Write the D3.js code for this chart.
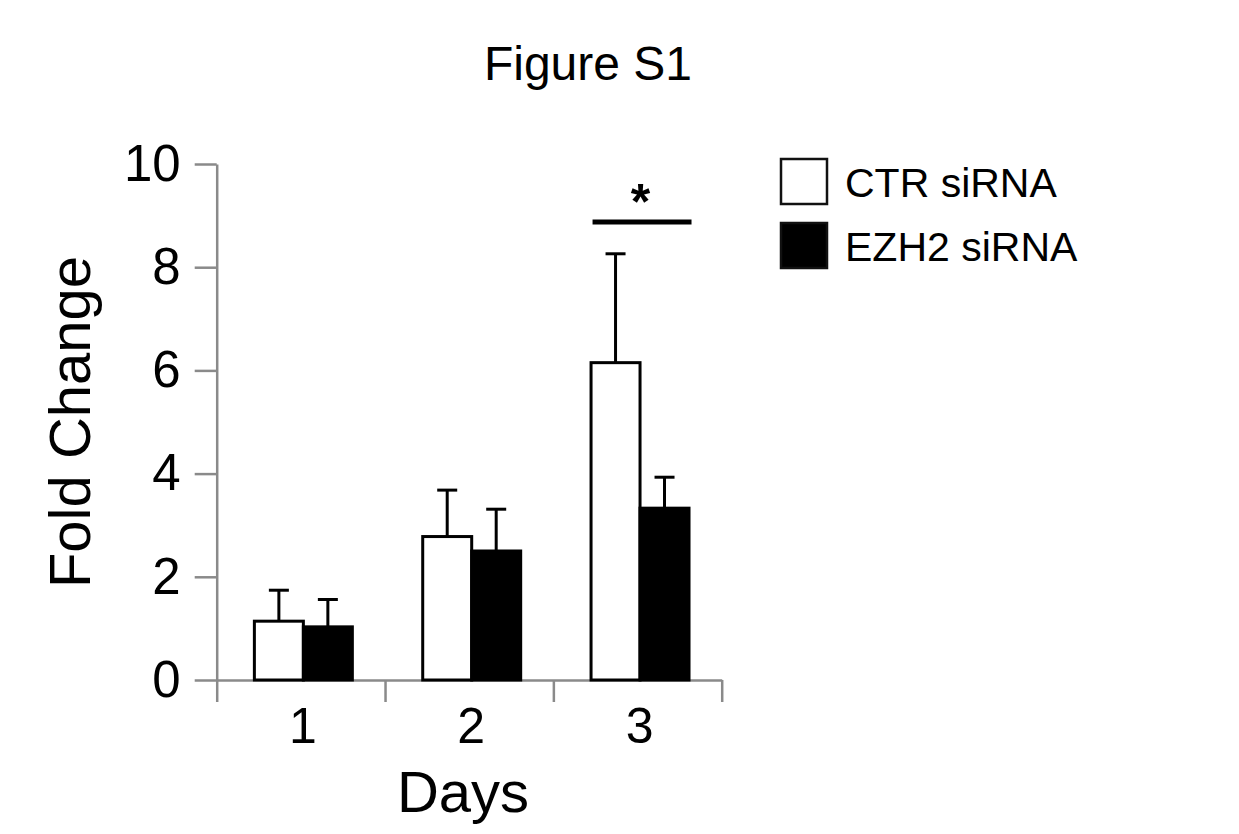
<!DOCTYPE html>
<html>
<head>
<meta charset="utf-8">
<script src="https://cdn.jsdelivr.net/npm/d3@7"></script>
<style>
  html, body { margin: 0; padding: 0; background: #fff; }
  svg { display: block; font-family: Arial, "Liberation Sans", Helvetica, sans-serif; }
</style>
</head>
<body>
<svg id="chart" width="1239" height="834"></svg>
<script>
const days = ["1", "2", "3"];
const seriesNames = ["CTR siRNA", "EZH2 siRNA"];
const ctrValues = [1.14, 2.78, 6.15];
const ctrErrors = [0.60, 0.90, 2.11];
const ezh2Values = [1.03, 2.50, 3.33];
const ezh2Errors = [0.53, 0.81, 0.60];
const yTicks = [0, 2, 4, 6, 8, 10];
const significantDay = "3";

const data = days.map((d, i) => ({
  day: d,
  bars: [
    { series: seriesNames[0], value: ctrValues[i], err: ctrErrors[i] },
    { series: seriesNames[1], value: ezh2Values[i], err: ezh2Errors[i] }
  ]
}));

const svg = d3.select("#chart");
const plotLeft = 216.7, plotRight = 721.7, plotTop = 164, plotBottom = 680;
const axisColor = "#8a8a8a";

const y = d3.scaleLinear().domain([0, 10]).range([plotBottom, plotTop]);
const x0 = d3.scaleBand().domain(days).range([plotLeft, plotRight]).paddingInner(0.418).paddingOuter(0.209);
const x1 = d3.scaleBand().domain(seriesNames).range([0, x0.bandwidth()]);
const xEdge = d3.scaleLinear().domain([0, days.length]).range([plotLeft, plotRight]);
const fill = d3.scaleOrdinal().domain(seriesNames).range(["#ffffff", "#000000"]);

// Title
svg.append("text").attr("x", 588).attr("y", 80).attr("text-anchor", "middle")
  .attr("font-size", 48).attr("fill", "#000").text("Figure S1");

// Y axis
const yAxis = svg.append("g").attr("transform", `translate(${plotLeft},0)`)
  .call(d3.axisLeft(y).tickValues(yTicks).tickSize(22).tickSizeOuter(0).tickPadding(14));
yAxis.selectAll("path, line").attr("stroke", axisColor).attr("stroke-width", 2.5);
yAxis.selectAll("text").attr("font-size", 51).attr("fill", "#000");
yAxis.attr("font-family", null).attr("font-size", null);

// X axis edges
const xAxisEdges = svg.append("g").attr("transform", `translate(0,${plotBottom})`)
  .call(d3.axisBottom(xEdge).tickValues(d3.range(days.length + 1)).tickSize(22).tickSizeOuter(0).tickFormat(""));
xAxisEdges.selectAll("path, line").attr("stroke", axisColor).attr("stroke-width", 2.5);

// X labels
const xAxisLabels = svg.append("g").attr("transform", `translate(2,${plotBottom})`)
  .call(d3.axisBottom(x0).tickSize(0).tickPadding(27));
xAxisLabels.select("path").remove();
xAxisLabels.selectAll("text").attr("font-size", 50).attr("fill", "#000");
xAxisLabels.attr("font-family", null).attr("font-size", null);

// Axis titles
svg.append("text").attr("x", 463).attr("y", 812).attr("text-anchor", "middle")
  .attr("font-size", 58).attr("fill", "#000").text("Days");
svg.append("text").attr("transform", `translate(90,${(plotTop + plotBottom) / 2}) rotate(-90)`)
  .attr("text-anchor", "middle").attr("font-size", 58).attr("fill", "#000").text("Fold Change");

// Bars
const groups = svg.append("g").selectAll("g").data(data).join("g")
  .attr("transform", d => `translate(${x0(d.day) + 2.5},0)`);

// error bars (upper only)
groups.selectAll("g.err").data(d => d.bars).join("g").attr("class", "err").each(function(b) {
  const g = d3.select(this);
  const cx = x1(b.series) + x1.bandwidth() / 2;
  g.append("line").attr("x1", cx).attr("x2", cx)
    .attr("y1", y(b.value)).attr("y2", y(b.value + b.err))
    .attr("stroke", "#000").attr("stroke-width", 3);
  g.append("line").attr("x1", cx - 10).attr("x2", cx + 10)
    .attr("y1", y(b.value + b.err)).attr("y2", y(b.value + b.err))
    .attr("stroke", "#000").attr("stroke-width", 3);
});

groups.selectAll("rect").data(d => d.bars).join("rect")
  .attr("x", b => x1(b.series))
  .attr("width", x1.bandwidth())
  .attr("y", b => y(b.value))
  .attr("height", b => y(0) - y(b.value))
  .attr("fill", b => fill(b.series))
  .attr("stroke", "#000").attr("stroke-width", 3);

// Significance
const sx = x0(significantDay);
svg.append("line").attr("x1", sx + 4).attr("x2", sx + x0.bandwidth() + 5)
  .attr("y1", 222).attr("y2", 222).attr("stroke", "#000").attr("stroke-width", 5);
svg.append("text").attr("x", sx + x0.bandwidth() / 2 + 3).attr("y", 219).attr("text-anchor", "middle")
  .attr("font-size", 50).attr("font-weight", "bold").attr("fill", "#000").text("*");

// Legend
const legend = svg.append("g").selectAll("g").data(seriesNames).join("g")
  .attr("transform", (d, i) => `translate(780,${158 + i * 64})`);
legend.append("rect").attr("x", 1).attr("y", 1).attr("width", 46).attr("height", 45)
  .attr("fill", d => fill(d)).attr("stroke", "#111").attr("stroke-width", 2.5);
legend.append("text").attr("x", 65).attr("y", 39).attr("font-size", 41).attr("fill", "#000").text(d => d);
</script>
</body>
</html>
